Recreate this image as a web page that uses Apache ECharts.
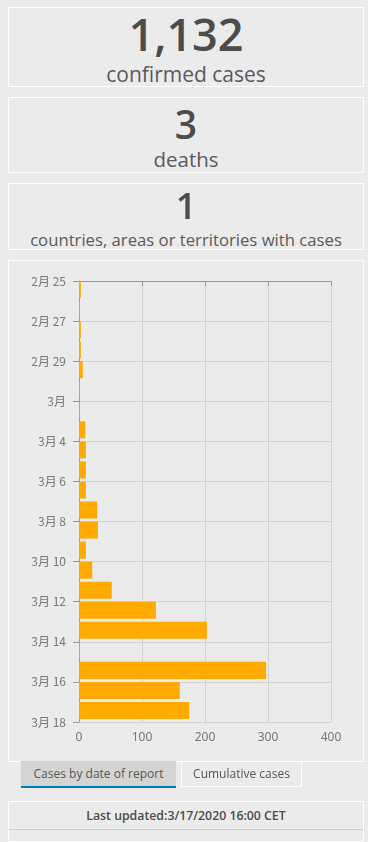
<!DOCTYPE html>
<html><head><meta charset="utf-8">
<script src="https://cdn.jsdelivr.net/npm/echarts@6/dist/echarts.min.js"></script>
<style>
html,body{margin:0;padding:0;background:#ebebeb;width:368px;height:842px;overflow:hidden;font-family:"Open Sans","Noto Sans",sans-serif;}
.box{position:absolute;left:8px;width:354px;border:1px solid #fff;box-sizing:content-box;}
.t{position:absolute;left:0;right:0;text-align:center;white-space:nowrap;}
</style></head><body>
<div class="box" style="top:7px;height:78px;">
  <div class="t" style="top:0px;height:52px;line-height:52px;font-size:45px;font-weight:600;color:#4c4c4c;">1,132</div>
  <div class="t" style="top:53px;height:26px;line-height:26px;font-size:21px;color:#5a5a5a;">confirmed cases</div>
</div>
<div class="box" style="top:97px;height:74px;">
  <div class="t" style="top:3px;height:46px;line-height:46px;font-size:39px;font-weight:600;color:#4c4c4c;">3</div>
  <div class="t" style="top:48px;height:26px;line-height:26px;font-size:20.5px;color:#5a5a5a;">deaths</div>
</div>
<div class="box" style="top:183px;height:65px;">
  <div class="t" style="top:0px;height:44px;line-height:44px;font-size:36px;font-weight:600;color:#4c4c4c;">1</div>
  <div class="t" style="top:45px;height:22px;line-height:22px;font-size:16.7px;color:#5a5a5a;">countries, areas or territories with cases</div>
</div>
<div class="box" style="top:260px;height:500px;"></div>
<div id="chart" style="position:absolute;left:0;top:260px;width:368px;height:502px;"></div>
<div style="position:absolute;left:21px;top:761px;width:155px;height:25px;background:#d4d4d4;border-bottom:2px solid #0079c1;font-size:12px;line-height:26px;text-align:center;color:#555;">Cases by date of report</div>
<div style="position:absolute;left:181px;top:761px;width:119px;height:25px;border:1px solid #fff;border-top:none;font-size:12px;line-height:26px;text-align:center;color:#555;">Cumulative cases</div>
<div class="box" style="top:801px;height:39px;">
  <div class="t" style="top:4px;height:20px;line-height:20px;font-size:12.3px;font-weight:600;color:#4c4c4c;">Last updated:3/17/2020 16:00 CET</div>
  <div style="position:absolute;left:0;right:0;top:27px;border-top:1px solid #ccc;"></div>
</div>
<script>
// Data: one bar per day, starting 2020-02-25
const dates = ['2/25','2/26','2/27','2/28','2/29','3/1','3/2','3/3','3/4','3/5','3/6','3/7','3/8','3/9','3/10','3/11','3/12','3/13','3/14','3/15','3/16','3/17'];
const cases = [3,1,3,3,6,1,1,10,11,11,11,29,30,11,21,52,122,203,1,297,160,175];
const tickLabels = ['2月 25','2月 27','2月 29','3月','3月 4','3月 6','3月 8','3月 10','3月 12','3月 14','3月 16','3月 18'];

const chart = echarts.init(document.getElementById('chart'));
const data = cases.map((v,i)=>[v,i]);
chart.setOption({
  animation:false,
  grid:{left:79,right:37,top:21,bottom:40,containLabel:false},
  xAxis:{type:'value',min:0,max:400,interval:100,
    axisLine:{show:true,lineStyle:{color:'#999'}},
    axisTick:{show:true,length:5,lineStyle:{color:'#999'}},
    axisLabel:{color:'#777',fontSize:12,margin:10,fontFamily:'"Noto Sans","Noto Sans CJK SC",sans-serif'},
    splitLine:{show:true,lineStyle:{color:'#d2d2d2'}}},
  yAxis:{type:'value',inverse:true,min:0,max:22,interval:2,
    axisLine:{show:true,lineStyle:{color:'#999'}},
    axisTick:{show:true,length:6,lineStyle:{color:'#999'}},
    axisLabel:{color:'#777',fontSize:12,margin:13,fontFamily:'"Noto Sans CJK SC","Noto Sans",sans-serif',
      formatter:(v)=>tickLabels[Math.round(v/2)]||''},
    splitLine:{show:true,lineStyle:{color:'#d2d2d2'}}},
  series:[{type:'custom',data:data,encode:{x:0,y:1},
    renderItem:(params,api)=>{
      const v=api.value(0), d=api.value(1);
      const p0=api.coord([0,d]); const p1=api.coord([v,d+0.85]);
      return {type:'rect',shape:{x:p0[0],y:p0[1],width:Math.max(p1[0]-p0[0],0.6),height:p1[1]-p0[1]},style:{fill:'#ffaa00'}};
    }}]
});
</script>
</body></html>
